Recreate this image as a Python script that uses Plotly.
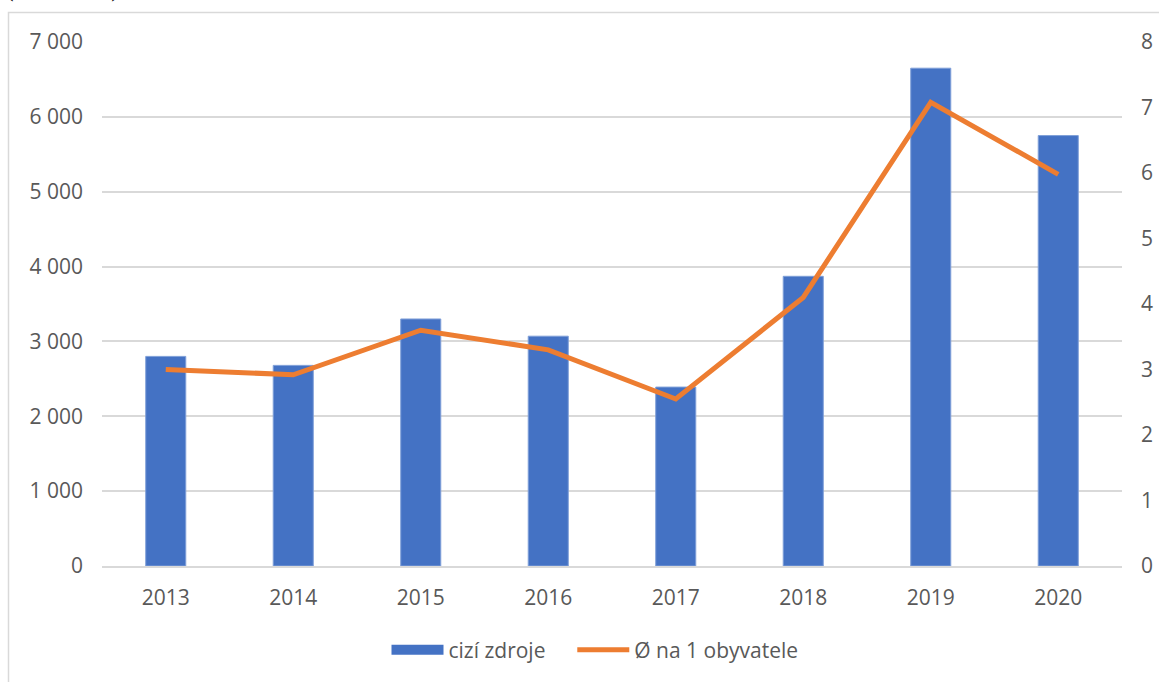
import plotly.graph_objects as go

years = ["2013", "2014", "2015", "2016", "2017", "2018", "2019", "2020"]
cizi_zdroje = [2800, 2680, 3300, 3070, 2390, 3870, 6650, 5750]
na_obyvatele = [3.0, 2.92, 3.6, 3.3, 2.55, 4.1, 7.08, 5.98]

W, H = 1159, 682
L, R, T, B = 102, 37, 42, 116
pw = W - L - R
ph = H - T - B

FONT = "Open Sans"
TXT = "#595959"
GRID = "#d9d9d9"
BLUE = "#4472C4"
ORANGE = "#ED7D31"

fig = go.Figure()
fig.add_trace(go.Bar(
    x=years, y=cizi_zdroje, name="cizí zdroje",
    marker=dict(color=BLUE, line=dict(color="#7f9fd8", width=1)),
    yaxis="y", showlegend=False, legendgroup="a",
))
# legend-only entry to get the wide rectangular swatch
fig.add_trace(go.Scatter(
    x=[None], y=[None], name="cizí zdroje" + "\u00a0" * 4, mode="lines",
    line=dict(color=BLUE, width=13), legendgroup="a", yaxis="y",
))
fig.add_trace(go.Scatter(
    x=years, y=na_obyvatele, name="Ø na 1 obyvatele",
    mode="lines", line=dict(color=ORANGE, width=5),
    yaxis="y2",
))

def px_x(p):
    return (p - L) / pw

def px_y(p):
    return (H - B - p) / ph

fig.update_layout(
    width=W, height=H,
    margin=dict(l=L, r=R, t=T, b=B, autoexpand=False),
    paper_bgcolor="white", plot_bgcolor="white",
    separators=", ",
    font=dict(family=FONT, size=21, color=TXT),
    bargap=0.686,
    showlegend=True,
    legend=dict(
        orientation="h", x=px_x(595), xanchor="center",
        y=px_y(650), yanchor="middle",
        font=dict(family=FONT, size=21, color=TXT),
        itemwidth=52, traceorder="normal",
        bgcolor="rgba(0,0,0,0)",
    ),
    xaxis=dict(
        type="category", showgrid=False, zeroline=False,
        showline=True, linecolor=GRID, linewidth=1.5,
        ticks="", ticklabelstandoff=12,
        tickfont=dict(family=FONT, size=21, color=TXT),
    ),
    yaxis=dict(
        range=[0, 7000], dtick=1000, tickformat=",d",
        showgrid=True, gridcolor=GRID, gridwidth=1.5,
        zeroline=False, showline=False, ticks="",
        ticklabelstandoff=18,
        tickfont=dict(family=FONT, size=21, color=TXT),
    ),
    yaxis2=dict(
        range=[0, 8], dtick=1, overlaying="y", side="right",
        showgrid=False, zeroline=False, showline=False, ticks="",
        ticklabelstandoff=18,
        tickfont=dict(family=FONT, size=21, color=TXT),
    ),
    shapes=[dict(
        type="rect", xref="paper", yref="paper",
        x0=px_x(8.5), x1=px_x(W + 20), y0=px_y(H + 20), y1=px_y(12.5),
        line=dict(color=GRID, width=1.5), fillcolor="rgba(0,0,0,0)",
        layer="below",
    )],
    annotations=[dict(
        text="(v mil. Kč)", xref="paper", yref="paper",
        x=px_x(3), xanchor="left", y=px_y(0), yanchor="bottom",
        showarrow=False, yshift=-4,
        font=dict(family="Liberation Serif", size=26, color="#000000"),
    )],
)

fig.write_html(
    "out.html",
    config={"displayModeBar": False},
    post_script="document.body.style.margin='0';document.body.style.padding='0';"
                "document.body.style.overflow='hidden';",
)
